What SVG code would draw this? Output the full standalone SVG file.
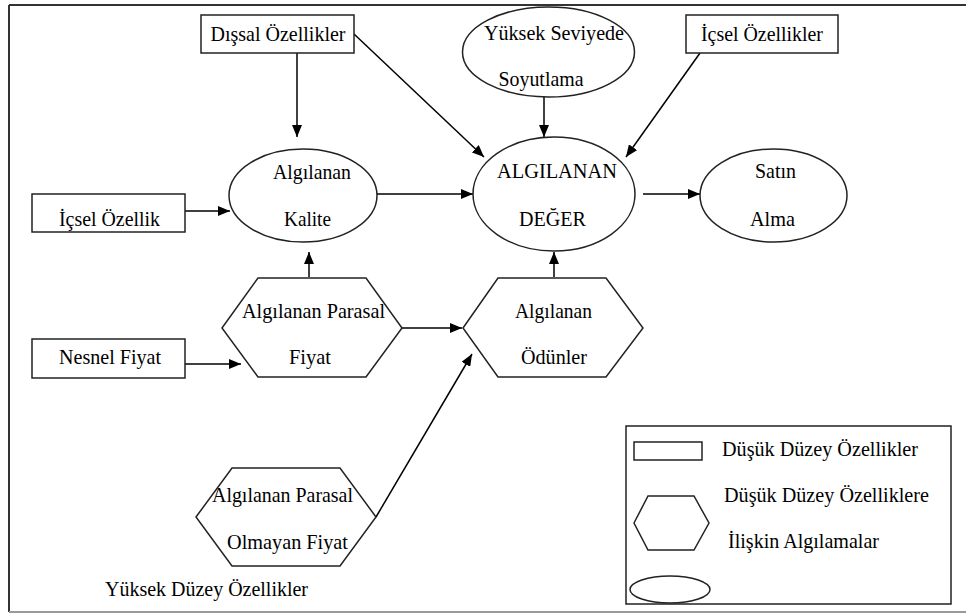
<svg xmlns="http://www.w3.org/2000/svg" width="966" height="614" viewBox="0 0 966 614">
<defs>
<marker id="ah" viewBox="0 0 12 10" refX="12" refY="5" markerWidth="12" markerHeight="10" markerUnits="userSpaceOnUse" orient="auto">
<path d="M0,0 L12,5 L0,10 Z" fill="#000"/>
</marker>
</defs>
<style>
.s{fill:#fff;stroke:#222;stroke-width:1.5}
text{font-family:'Liberation Serif','Tinos','DejaVu Serif','Times New Roman',serif;font-size:22px;fill:#000}
.t{text-anchor:middle}
.l{text-anchor:start}
.c line{stroke:#000;stroke-width:1.5;marker-end:url(#ah)}
</style>
<rect width="966" height="614" fill="#fff"/>
<g id="frame">
<line x1="9" y1="5" x2="966" y2="5" stroke="#333" stroke-width="2"/>
<line x1="9" y1="5" x2="9" y2="612" stroke="#333" stroke-width="2"/>
<line x1="9" y1="612" x2="966" y2="612" stroke="#999" stroke-width="2"/>
</g>
<g class="c" id="connectors">
<line x1="297" y1="53" x2="297" y2="137"/>
<line x1="354" y1="34" x2="484" y2="157"/>
<line x1="544" y1="97" x2="544" y2="137"/>
<line x1="700" y1="53" x2="626" y2="157"/>
<line x1="185" y1="211" x2="230" y2="211"/>
<line x1="377" y1="194" x2="473" y2="194"/>
<line x1="643" y1="194" x2="700" y2="194"/>
<line x1="309" y1="277" x2="309" y2="252"/>
<line x1="554" y1="277" x2="554" y2="252"/>
<line x1="402" y1="328" x2="462" y2="328"/>
<line x1="185" y1="364" x2="241" y2="364"/>
<line x1="376" y1="517" x2="472" y2="354"/>
</g>
<g id="disal">
<rect class="s" x="201" y="15" width="153" height="38"/>
<text class="t" x="278" y="41" textLength="135" lengthAdjust="spacingAndGlyphs">Dışsal Özellikler</text>
</g>
<g id="yuksek-seviyede">
<ellipse class="s" cx="548.5" cy="52" rx="86" ry="45"/>
<text class="t" x="554" y="40" textLength="140" lengthAdjust="spacingAndGlyphs">Yüksek Seviyede</text>
<text class="t" x="541" y="86" textLength="85" lengthAdjust="spacingAndGlyphs">Soyutlama</text>
</g>
<g id="icsel-ozellikler">
<rect class="s" x="686" y="15" width="152" height="38"/>
<text class="t" x="762" y="41" textLength="122" lengthAdjust="spacingAndGlyphs">İçsel Özellikler</text>
</g>
<g id="algilanan-kalite">
<ellipse class="s" cx="303" cy="195.5" rx="74" ry="46.5"/>
<text class="t" x="312" y="179" textLength="78" lengthAdjust="spacingAndGlyphs">Algılanan</text>
<text class="t" x="307.5" y="226" textLength="47" lengthAdjust="spacingAndGlyphs">Kalite</text>
</g>
<g id="icsel-ozellik">
<rect class="s" x="32" y="194" width="153" height="38"/>
<text class="t" x="109.5" y="226" textLength="101" lengthAdjust="spacingAndGlyphs">İçsel Özellik</text>
</g>
<g id="algilanan-deger">
<ellipse class="s" cx="554" cy="194" rx="81" ry="57"/>
<text class="t" x="557" y="178" textLength="120" lengthAdjust="spacingAndGlyphs">ALGILANAN</text>
<text class="t" x="552.5" y="226" textLength="67" lengthAdjust="spacingAndGlyphs">DEĞER</text>
</g>
<g id="satin-alma">
<ellipse class="s" cx="773.5" cy="195.5" rx="73.5" ry="46.5"/>
<text class="t" x="775.5" y="178" textLength="41" lengthAdjust="spacingAndGlyphs">Satın</text>
<text class="t" x="772.5" y="226" textLength="45" lengthAdjust="spacingAndGlyphs">Alma</text>
</g>
<g id="parasal-fiyat">
<polygon class="s" points="222,328 258,278 366,278 402,328 366,377 258,377"/>
<text class="t" x="313.5" y="318" textLength="143" lengthAdjust="spacingAndGlyphs">Algılanan Parasal</text>
<text class="t" x="310" y="364" textLength="42" lengthAdjust="spacingAndGlyphs">Fiyat</text>
</g>
<g id="odunler">
<polygon class="s" points="463,328 498,278 606,278 643,328 606,377 498,377"/>
<text class="t" x="553.5" y="318" textLength="77" lengthAdjust="spacingAndGlyphs">Algılanan</text>
<text class="t" x="554" y="364" textLength="66" lengthAdjust="spacingAndGlyphs">Ödünler</text>
</g>
<g id="nesnel-fiyat">
<rect class="s" x="32" y="339" width="153" height="39"/>
<text class="t" x="110" y="364" textLength="102" lengthAdjust="spacingAndGlyphs">Nesnel Fiyat</text>
</g>
<g id="parasal-olmayan">
<polygon class="s" points="196,517 232,468 340,468 376,517 340,566 232,566"/>
<text class="t" x="282.5" y="502" textLength="141" lengthAdjust="spacingAndGlyphs">Algılanan Parasal</text>
<text class="t" x="287.5" y="549" textLength="121" lengthAdjust="spacingAndGlyphs">Olmayan Fiyat</text>
</g>
<g id="yuksek-duzey">
<text class="l" x="105" y="596" textLength="203" lengthAdjust="spacingAndGlyphs">Yüksek Düzey Özellikler</text>
</g>
<g id="legend">
<rect class="s" x="626" y="426" width="325" height="178"/>
<rect class="s" x="634" y="442" width="68" height="18"/>
<text class="l" x="722" y="456" textLength="196" lengthAdjust="spacingAndGlyphs">Düşük Düzey Özellikler</text>
<polygon class="s" points="634,523 648,496 694,496 709,523 694,550 648,550"/>
<text class="l" x="724" y="502" textLength="205" lengthAdjust="spacingAndGlyphs">Düşük Düzey Özelliklere</text>
<text class="l" x="728" y="548" textLength="151" lengthAdjust="spacingAndGlyphs">İlişkin Algılamalar</text>
<ellipse class="s" cx="670" cy="589.5" rx="40" ry="13.5"/>
</g>
</svg>
